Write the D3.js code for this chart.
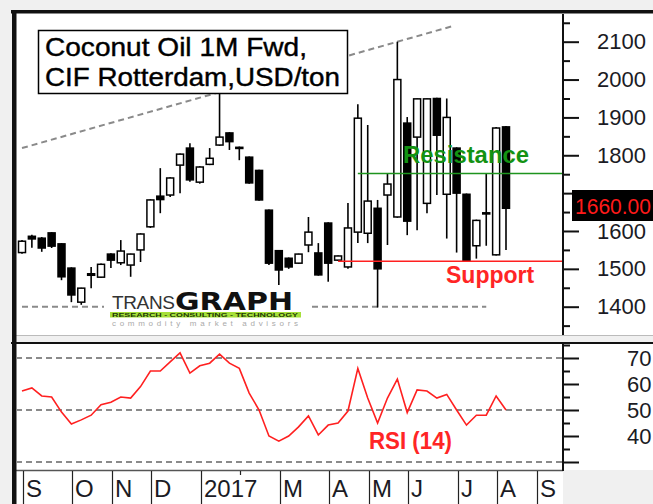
<!DOCTYPE html>
<html>
<head>
<meta charset="utf-8">
<script src="https://cdnjs.cloudflare.com/ajax/libs/d3/7.8.5/d3.min.js"></script>
<style>
  body { margin: 0; background: #f0f0f0; }
  svg { display: block; font-family: 'Liberation Sans', Arial, sans-serif; }
</style>
</head>
<body>
<svg id="chart"></svg>
<script>
// Coconut oil weekly candles (Fridays), plus 14 week RSI

var firstWeek = new Date(2016, 8, 2);

var opens  = [1543, 1586, 1581, 1595, 1566, 1502, 1412, 1483, 1478, 1539,
              1516, 1510, 1550, 1611, 1692, 1695, 1774, 1819, 1729, 1776,
              1827, 1859, 1821, 1795, 1760, 1655, 1548, 1528, 1515, 1563,
              1542, 1621, 1523, 1505, 1597, 1594, 1660, 1695, 1637, 1885,
              1848, 1673, 1950, 1697, 1819, 1697, 1561, 1648, 1537, 1875];
var highs  = [1576, 1590, 1584, 1597, 1568, 1504, 1450, 1505, 1514, 1541,
              1576, 1540, 1594, 1684, 1766, 1742, 1805, 1832, 1771, 1819,
              1970, 1861, 1823, 1797, 1762, 1657, 1550, 1530, 1540, 1637,
              1568, 1623, 1535, 1674, 1935, 1880, 1682, 1753, 2100, 1901,
              1950, 1950, 1952, 1950, 1821, 1699, 1630, 1753, 1875, 1877];
var lows   = [1540, 1556, 1545, 1555, 1470, 1412, 1405, 1449, 1476, 1502,
              1510, 1479, 1518, 1608, 1647, 1690, 1700, 1730, 1725, 1774,
              1825, 1814, 1787, 1725, 1680, 1510, 1457, 1500, 1513, 1544,
              1482, 1466, 1521, 1500, 1568, 1568, 1398, 1563, 1635, 1589,
              1602, 1647, 1695, 1580, 1543, 1520, 1527, 1561, 1535, 1550];
var closes = [1573, 1579, 1555, 1560, 1479, 1431, 1449, 1487, 1512, 1523,
              1547, 1539, 1592, 1682, 1683, 1740, 1803, 1735, 1769, 1792,
              1848, 1836, 1818, 1727, 1682, 1515, 1497, 1505, 1539, 1597,
              1484, 1515, 1534, 1608, 1898, 1679, 1500, 1724, 2000, 1626,
              1949, 1949, 1853, 1900, 1700, 1522, 1628, 1645, 1872, 1660];

var rsiValues = [57.3, 58.5, 55.4, 55, 49.2, 44.6, 46.2, 48, 52, 53,
                 55, 54.6, 59, 65, 65, 68.5, 72, 64.2, 67, 68,
                 71.5, 68, 66, 56.5, 50, 40, 38, 40, 43.5, 47.7,
                 40.4, 44.2, 45, 49.6, 66, 54.6, 45, 54.6, 61.9, 49,
                 57.7, 57.3, 54.6, 56, 50, 44.2, 48, 48, 55.4, 50];

var priceTicks = [1400, 1500, 1600, 1700, 1800, 1900, 2000, 2100];
var priceMinor = [1350, 1450, 1550, 1650, 1750, 1850, 1950, 2050, 2150];
var rsiTicks = [30, 40, 50, 60, 70];
var rsiMinor = [35, 45, 55, 65, 75];
var rsiLabels = [40, 50, 60, 70];
var rsiGuides = [30, 50, 70];
var monthLabels = ['S', 'O', 'N', 'D', '2017', '', 'M', 'A', 'M', 'J', 'J', 'A', 'S'];

var resistance = 1752;
var support = 1520;
var floorLevel = 1400;
var lastPrice = 1660;
var trendLine = [[new Date(2016, 8, 2), 1819], [new Date(2017, 6, 4), 2141]];

var width = 653;
var height = 504;
var left = 16;
var axisX = 563;

var svg = d3.select('#chart')
  .attr('width', width)
  .attr('height', height);

var weeks = opens.map(function (d, i) { return d3.timeWeek.offset(firstWeek, i); });

var x = d3.scaleTime()
  .domain([firstWeek, weeks[weeks.length - 1]])
  .range([22, 506]);

var y = d3.scaleLinear()
  .domain([1400, 2100])
  .range([306.7, 41.7]);

var yr = d3.scaleLinear()
  .domain([30, 70])
  .range([462, 358]);

/**
 * Frames
 */
svg.append('rect').attr('width', width).attr('height', height).attr('fill', '#f0f0f0');
svg.append('rect').attr('x', left).attr('y', 13).attr('width', width - left).attr('height', 322).attr('fill', '#fff');
svg.append('rect').attr('x', left).attr('y', 344).attr('width', width - left).attr('height', 126).attr('fill', '#fff');
svg.append('rect').attr('x', left).attr('y', 471).attr('width', axisX - left).attr('height', 33).attr('fill', '#fff');
svg.append('rect').attr('x', 11).attr('y', 10).attr('width', width - 11).attr('height', 3.5).attr('fill', '#111');
svg.append('rect').attr('x', 11).attr('y', 342).attr('width', width - 11).attr('height', 2).attr('fill', '#111');
svg.append('line').attr('x1', left).attr('x2', width).attr('y1', 335.5).attr('y2', 335.5)
  .attr('stroke', '#bbb').attr('stroke-width', 1);
svg.append('line').attr('x1', left).attr('x2', axisX).attr('y1', 470.5).attr('y2', 470.5)
  .attr('stroke', '#555').attr('stroke-width', 1.5);
svg.append('rect').attr('x', 12).attr('y', 10).attr('width', 4.5).attr('height', height - 10).attr('fill', '#111');

svg.append('clipPath').attr('id', 'mainClip')
  .append('rect').attr('x', left).attr('y', 14).attr('width', axisX - left).attr('height', 321);
svg.append('clipPath').attr('id', 'rsiClip')
  .append('rect').attr('x', left).attr('y', 344).attr('width', axisX - left).attr('height', 126);

var main = svg.append('g').attr('clip-path', 'url(#mainClip)');

// dashed trend and floor lines
main.append('line')
  .attr('x1', x(trendLine[0][0])).attr('y1', y(trendLine[0][1]))
  .attr('x2', x(trendLine[1][0])).attr('y2', y(trendLine[1][1]))
  .attr('stroke', '#8a8a8a').attr('stroke-width', 2).attr('stroke-dasharray', '6,4');
main.append('line')
  .attr('x1', x(weeks[0])).attr('x2', x(weeks[47]))
  .attr('y1', y(floorLevel)).attr('y2', y(floorLevel))
  .attr('stroke', '#8a8a8a').attr('stroke-width', 2).attr('stroke-dasharray', '6,4');

// logo
var logo = main.append('g');
logo.append('rect').attr('x', 104).attr('y', 287).attr('width', 206).attr('height', 41).attr('fill', '#fff');
logo.append('text').attr('x', 112).attr('y', 309).attr('font-size', 19).attr('fill', '#333')
  .attr('textLength', 63).attr('lengthAdjust', 'spacing').text('TRANS');
logo.append('text').attr('x', 175).attr('y', 310).attr('font-size', 25).attr('font-weight', 'bold')
  .attr('font-family', 'DejaVu Sans').attr('fill', '#111')
  .attr('textLength', 118).attr('lengthAdjust', 'spacingAndGlyphs').text('GRAPH');
logo.append('rect').attr('x', 110).attr('y', 312).attr('width', 191).attr('height', 5.5).attr('fill', '#a6e03a');
logo.append('text').attr('x', 112).attr('y', 316.6).attr('font-size', 5).attr('font-weight', 'bold').attr('fill', '#1d3a05')
  .attr('textLength', 186).attr('lengthAdjust', 'spacingAndGlyphs').text('RESEARCH - CONSULTING - TECHNOLOGY');
logo.append('text').attr('x', 112).attr('y', 326).attr('font-size', 8).attr('fill', '#aaa')
  .attr('textLength', 186).attr('lengthAdjust', 'spacing').text('commodity market advisors');

// candles
var candle = main.selectAll('g.candle')
  .data(weeks)
  .enter().append('g')
    .attr('class', 'candle');

candle.append('line')
  .attr('x1', function (d) { return x(d); })
  .attr('x2', function (d) { return x(d); })
  .attr('y1', function (d, i) { return y(highs[i]); })
  .attr('y2', function (d, i) { return y(lows[i]); })
  .attr('stroke', '#000')
  .attr('stroke-width', 1.6);

candle.append('rect')
  .attr('x', function (d) { return x(d) - 3.5; })
  .attr('width', 7)
  .attr('y', function (d, i) { return y(Math.max(opens[i], closes[i])); })
  .attr('height', function (d, i) { return Math.max(1, Math.abs(y(opens[i]) - y(closes[i]))); })
  .attr('fill', function (d, i) { return closes[i] >= opens[i] ? '#fff' : '#000'; })
  .attr('stroke', '#000')
  .attr('stroke-width', 1.5);

// resistance / support
main.append('line')
  .attr('x1', x(weeks[34])).attr('x2', axisX)
  .attr('y1', y(resistance)).attr('y2', y(resistance))
  .attr('stroke', '#1e941e').attr('stroke-width', 1.6);
main.append('line')
  .attr('x1', x(weeks[32])).attr('x2', axisX)
  .attr('y1', y(support)).attr('y2', y(support))
  .attr('stroke', '#ff2020').attr('stroke-width', 1.6);
main.append('text')
  .attr('x', 403).attr('y', 163)
  .attr('font-size', 23).attr('font-weight', 'bold').attr('fill', '#139213')
  .attr('textLength', 126).attr('lengthAdjust', 'spacingAndGlyphs')
  .text('Resistance');
main.append('text')
  .attr('x', 446).attr('y', 283)
  .attr('font-size', 23).attr('font-weight', 'bold').attr('fill', '#ff2525')
  .text('Support');

// title box
svg.append('rect')
  .attr('x', 38.5).attr('y', 30.5).attr('width', 309).attr('height', 63)
  .attr('fill', '#fff').attr('stroke', '#000').attr('stroke-width', 1.5);
svg.append('text')
  .attr('x', 45).attr('y', 55.5).attr('font-size', 25).attr('fill', '#000')
  .attr('stroke', '#000').attr('stroke-width', 0.4)
  .attr('textLength', 262).attr('lengthAdjust', 'spacingAndGlyphs')
  .text('Coconut Oil 1M Fwd,');
svg.append('text')
  .attr('x', 45).attr('y', 86).attr('font-size', 25).attr('fill', '#000')
  .attr('stroke', '#000').attr('stroke-width', 0.4)
  .attr('textLength', 295).attr('lengthAdjust', 'spacingAndGlyphs')
  .text('CIF Rotterdam,USD/ton');

/**
 * Price axis
 */
svg.append('g')
  .attr('transform', 'translate(' + axisX + ',0)')
  .call(d3.axisRight(y).tickValues(priceMinor).tickSize(7).tickFormat(''))
  .call(function (g) { g.select('.domain').remove(); })
  .selectAll('line').attr('stroke', '#111').attr('stroke-width', 2);

// the label under the last price marker is hidden
var priceAxis = svg.append('g')
  .attr('transform', 'translate(' + axisX + ',0)')
  .call(d3.axisRight(y).tickValues(priceTicks).tickSize(16).tickPadding(18)
    .tickFormat(function (d) { return Math.abs(d - lastPrice) < 50 ? '' : d; }));
priceAxis.select('.domain').remove();
priceAxis.selectAll('line').attr('stroke', '#111').attr('stroke-width', 2);
priceAxis.selectAll('text')
  .attr('font-size', 22).attr('font-family', "'Liberation Sans', Arial, sans-serif").attr('fill', '#1b1b24');

svg.append('line')
  .attr('x1', axisX).attr('x2', axisX).attr('y1', 14).attr('y2', 335)
  .attr('stroke', '#111').attr('stroke-width', 2);

// last price marker
svg.append('rect')
  .attr('x', 572).attr('y', 190).attr('width', 85).attr('height', 31).attr('fill', '#000');
svg.append('text')
  .attr('x', 575).attr('y', 214).attr('font-size', 22).attr('fill', '#ff1a1a')
  .attr('textLength', 76).attr('lengthAdjust', 'spacingAndGlyphs')
  .text(d3.format('.2f')(lastPrice));

/**
 * RSI panel
 */
var rsiPanel = svg.append('g').attr('clip-path', 'url(#rsiClip)');

rsiPanel.selectAll('line.guide')
  .data(rsiGuides)
  .enter().append('line')
    .attr('class', 'guide')
    .attr('x1', left).attr('x2', axisX)
    .attr('y1', function (d) { return yr(d); })
    .attr('y2', function (d) { return yr(d); })
    .attr('stroke', '#8a8a8a').attr('stroke-width', 2).attr('stroke-dasharray', '6,4');

var rsiLine = d3.line()
  .x(function (d, i) { return x(weeks[i]); })
  .y(function (d) { return yr(d); });

rsiPanel.append('path')
  .datum(rsiValues)
  .attr('d', rsiLine)
  .attr('fill', 'none')
  .attr('stroke', '#ff2020')
  .attr('stroke-width', 1.6);

rsiPanel.append('text')
  .attr('x', 369).attr('y', 449)
  .attr('font-size', 23).attr('font-weight', 'bold').attr('fill', '#ff2525')
  .attr('textLength', 83).attr('lengthAdjust', 'spacingAndGlyphs')
  .text('RSI (14)');

svg.append('g')
  .attr('transform', 'translate(' + axisX + ',0)')
  .call(d3.axisRight(yr).tickValues(rsiMinor).tickSize(7).tickFormat(''))
  .call(function (g) { g.select('.domain').remove(); })
  .selectAll('line').attr('stroke', '#111').attr('stroke-width', 2);

var rsiAxis = svg.append('g')
  .attr('transform', 'translate(' + axisX + ',0)')
  .call(d3.axisRight(yr).tickValues(rsiTicks).tickSize(16).tickPadding(48)
    .tickFormat(function (d) { return rsiLabels.indexOf(d) >= 0 ? d : ''; }));
rsiAxis.select('.domain').remove();
rsiAxis.selectAll('line').attr('stroke', '#111').attr('stroke-width', 2);
rsiAxis.selectAll('text')
  .attr('font-size', 22).attr('font-family', "'Liberation Sans', Arial, sans-serif").attr('fill', '#1b1b24');

svg.append('line')
  .attr('x1', axisX).attr('x2', axisX).attr('y1', 344).attr('y2', 471)
  .attr('stroke', '#111').attr('stroke-width', 2);

/**
 * Month axis
 */
var months = d3.timeMonth.range(new Date(2016, 8, 1), new Date(2017, 9, 1))
  .map(function (m) { return d3.timeFriday.ceil(m); });

var monthAxis = svg.append('g');

monthAxis.selectAll('line')
  .data(months)
  .enter().append('line')
    .attr('x1', function (d) { return Math.round(x(d)) + 1.5; })
    .attr('x2', function (d) { return Math.round(x(d)) + 1.5; })
    .attr('y1', 471)
    .attr('y2', function (d, i) { return monthLabels[i] ? height : 475; })
    .attr('stroke', '#222')
    .attr('stroke-width', 1.2);

monthAxis.selectAll('text')
  .data(months)
  .enter().append('text')
    .attr('x', function (d) { return Math.round(x(d)) + 4; })
    .attr('y', 497)
    .attr('font-size', 24)
    .attr('fill', '#1b1b24')
    .text(function (d, i) { return monthLabels[i]; });
</script>
</body>
</html>
